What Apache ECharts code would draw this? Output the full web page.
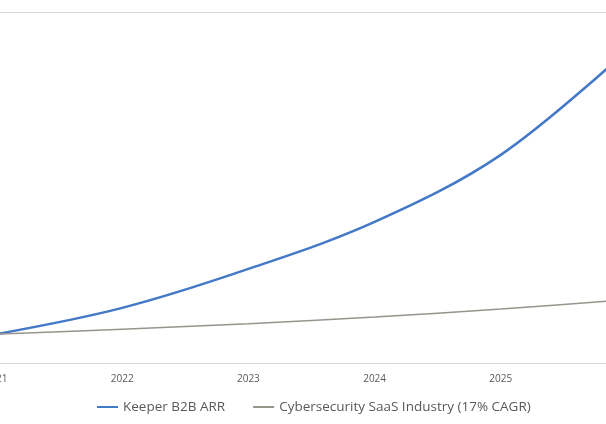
<!DOCTYPE html>
<html>
<head>
<meta charset="utf-8">
<script src="https://cdn.jsdelivr.net/npm/echarts@6/dist/echarts.min.js"></script>
<style>
  html, body { margin: 0; padding: 0; background: #fff; }
  #chart { width: 606px; height: 424px; }
</style>
</head>
<body>
<div id="chart"></div>
<script>
// years along the x axis (2021 and 2026 sit just outside the visible crop)
const years = ['2021', '2022', '2023', '2024', '2025', '2026'];
// relative ARR index
const keeperArr = [8.2, 15.7, 26.8, 40.2, 59.3, 89];
const industry = [8.2, 9.6, 11.2, 13.1, 15.4, 18.0];

const chart = echarts.init(document.getElementById('chart'));

chart.setOption({
  animation: false,
  grid: { left: -4, right: -21, top: 12, bottom: 61, outerBoundsMode: 'none', containLabel: false },
  legend: {
    bottom: 5,
    left: 92,
    icon: 'rect',
    itemWidth: 21,
    itemHeight: 2,
    itemGap: 28,
    textStyle: { color: '#595959', fontSize: 13.5, fontFamily: 'Open Sans' },
    data: ['Keeper B2B ARR', 'Cybersecurity SaaS Industry (17% CAGR)'],
  },
  xAxis: {
    type: 'category',
    boundaryGap: false,
    data: years,
    axisLine: { lineStyle: { color: '#d9d9d9', width: 1 } },
    axisTick: { show: false },
    axisLabel: { color: '#595959', fontSize: 10, fontFamily: 'Open Sans', margin: 11 },
  },
  yAxis: {
    type: 'value',
    min: 0,
    max: 100,
    interval: 100,
    axisLine: { show: false },
    axisLabel: { show: false },
    splitLine: { lineStyle: { color: '#d9d9d9', width: 1 } },
  },
  series: [
    {
      name: 'Keeper B2B ARR',
      type: 'line',
      smooth: 0.35,
      showSymbol: false,
      data: keeperArr,
      color: '#4479c8',
      lineStyle: { width: 2.5 },
    },
    {
      name: 'Cybersecurity SaaS Industry (17% CAGR)',
      type: 'line',
      smooth: 0.35,
      showSymbol: false,
      data: industry,
      color: '#96958c',
      lineStyle: { width: 1.5 },
    },
  ],
});
</script>
</body>
</html>
